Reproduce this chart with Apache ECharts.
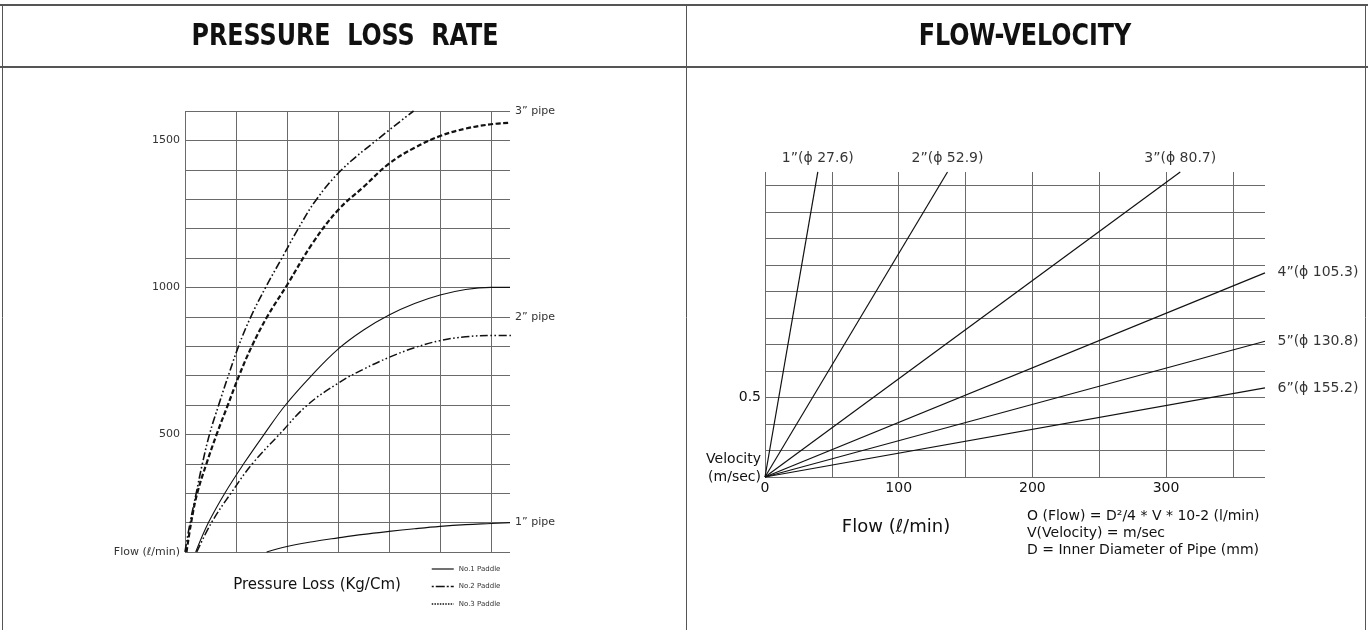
<!DOCTYPE html>
<html><head><meta charset="utf-8">
<script src="https://cdn.jsdelivr.net/npm/echarts@6/dist/echarts.min.js"></script>
<style>html,body{margin:0;padding:0;background:#fff}#c{width:1368px;height:630px}</style>
</head><body><div id="c"></div>
<script>
// ---------------- LEFT: PRESSURE LOSS RATE ----------------
const leftTitle = 'PRESSURE  LOSS  RATE';
const flowTickLabels = [500, 1000, 1500];
const flowAxisName = 'Flow (ℓ/min)';
const pipeLabelValues = [1600, 900, 200];
const pipeLabelTexts = ['3” pipe', '2” pipe', '1” pipe'];
const paddleNames = ['No.1 Paddle', 'No.2 Paddle', 'No.3 Paddle'];
// [pressure-loss grid units, flow l/min]
const pipe3No2 = [[0,100],[0.1,200],[0.22,300],[0.34,400],[0.48,500],[0.66,600],[0.85,700],[1.05,800],[1.29,900],[1.58,1000],[1.9,1100],[2.22,1200],[2.58,1300],[3.07,1400],[3.75,1500],[4.48,1600]];
const pipe3No3 = [[0.03,100],[0.12,200],[0.24,300],[0.42,400],[0.62,500],[0.84,600],[1.06,700],[1.31,800],[1.61,900],[2,1008],[2.5,1150],[3,1263],[3.5,1342],[4,1421],[4.5,1475],[5,1515],[5.5,1540],[6,1555],[6.37,1560]];
const pipe2No1 = [[0.21,100],[0.46,200],[0.78,300],[1.15,400],[1.55,500],[1.97,600],[2.48,700],[3,790],[3.5,855],[4,906],[4.5,945],[5,974],[5.5,993],[6,1000],[6.37,1000]];
const pipe2No2 = [[0.23,100],[0.52,200],[0.9,300],[1.32,400],[1.85,500],[2.4,600],[3,674],[3.5,722],[4,762],[4.5,795],[5,819],[5.5,832],[6,836],[6.45,836]];
const pipe1No1 = [[1.6,100],[2,119],[2.5,135],[3,148],[3.5,160],[4,170],[4.5,179],[5,187],[5.5,193],[6,197],[6.37,200]];

// ---------------- RIGHT: FLOW-VELOCITY ----------------
const rightTitle = 'FLOW-VELOCITY';
const velPipes = ['1”(ϕ 27.6)', '2”(ϕ 52.9)', '3”(ϕ 80.7)', '4”(ϕ 105.3)', '5”(ϕ 130.8)', '6”(ϕ 155.2)'];
const velEndFlow = [39.5, 136.5, 310.6, 374, 374, 374];      // l/min at line end
const velEndVel  = [1.917, 1.917, 1.917, 1.283, 0.853, 0.56]; // m/sec at line end
const velLabelPos = ['top', 'top', 'top', 'right', 'right', 'right'];
const flowTickStep = 100;
const velTickLabel = 0.5;
const formulaLines = ['O (Flow) = D²/4 * V * 10-2 (l/min)', 'V(Velocity) = m/sec', 'D = Inner Diameter of Pipe (mm)'];

const FONT = '"DejaVu Sans", Verdana, sans-serif';
const TITLE_FONT = '"Liberation Sans Narrow", "DejaVu Sans Condensed", "DejaVu Sans", sans-serif';
const INK = '#111';
const GRIDC = '#6a6a6a';

const chart = echarts.init(document.getElementById('c'), null, {renderer: 'canvas'});

function curve(name, data, lineStyle) {
  return {type: 'line', name, xAxisIndex: 0, yAxisIndex: 0, data, symbol: 'none',
    smooth: 0.4, clip: false, silent: true,
    lineStyle: Object.assign({color: INK, width: 1.1}, lineStyle), itemStyle: {color: INK}};
}

const series = [
  curve(paddleNames[1], pipe3No2, {type: [8, 2.5, 1.6, 2.5, 1.6, 2.5], width: 1.6}),
  curve(paddleNames[2], pipe3No3, {type: [5, 2.5], width: 2.2}),
  curve(paddleNames[0], pipe2No1, {type: 'solid'}),
  curve(paddleNames[1], pipe2No2, {type: [8, 2.5, 1.6, 2.5, 1.6, 2.5], width: 1.5}),
  curve(paddleNames[0], pipe1No1, {type: 'solid'})
];

velPipes.forEach((p, i) => {
  series.push({type: 'line', name: p, xAxisIndex: 1, yAxisIndex: 2, symbol: 'none', clip: false, silent: true,
    data: [[0, 0], [velEndFlow[i], velEndVel[i]]], lineStyle: {color: INK, width: 1.2}});
});
series.push({type: 'scatter', xAxisIndex: 1, yAxisIndex: 2, clip: false, silent: true,
  symbolSize: 1, itemStyle: {color: 'transparent'},
  data: velPipes.map((p, i) => ({value: [velEndFlow[i], velEndVel[i]],
    label: {show: true, formatter: p, position: velLabelPos[i], distance: velLabelPos[i] === 'top' ? 6 : 12,
      fontFamily: FONT, fontSize: 14, color: '#000'}}))
});

const hiddenSymbol = {color: 'transparent', borderColor: 'transparent', borderWidth: 0};
const option = {
  animation: false,
  backgroundColor: '#fff',
  title: [
    {text: formulaLines.join('\n'), left: 1027, top: 508, padding: 0,
      textStyle: {fontFamily: FONT, fontWeight: 'normal', fontSize: 14, lineHeight: 17, color: INK}}
  ],
  legend: {
    left: 426, top: 560, orient: 'vertical', itemWidth: 22, itemHeight: 10, itemGap: 9.5,
    selectedMode: false,
    textStyle: {fontFamily: FONT, fontSize: 7, color: '#333'},
    data: [
      {name: paddleNames[0], itemStyle: hiddenSymbol, lineStyle: {type: 'solid', width: 1.2, color: INK}},
      {name: paddleNames[1], itemStyle: hiddenSymbol, lineStyle: {type: [2, 2, 9, 2], width: 1.5, color: INK}},
      {name: paddleNames[2], itemStyle: hiddenSymbol, lineStyle: {type: [1.5, 1.2], width: 1.5, color: INK}}
    ]
  },
  graphic: [
    {type: 'line', shape: {x1: 0, y1: 5, x2: 1368, y2: 5}, style: {stroke: '#555', lineWidth: 2}},
    {type: 'line', shape: {x1: 0, y1: 67, x2: 1368, y2: 67}, style: {stroke: '#555', lineWidth: 2}},
    {type: 'line', shape: {x1: 2.5, y1: 5, x2: 2.5, y2: 630}, style: {stroke: '#555', lineWidth: 1}},
    {type: 'line', shape: {x1: 686.5, y1: 5, x2: 686.5, y2: 630}, style: {stroke: '#555', lineWidth: 1}},
    {type: 'line', shape: {x1: 1365.5, y1: 5, x2: 1365.5, y2: 630}, style: {stroke: '#555', lineWidth: 1}},
    {type: 'text', x: 345, y: 37, scaleX: 0.98, scaleY: 1.1,
      style: {text: leftTitle, font: 'bold 27px ' + TITLE_FONT, fill: '#111', textAlign: 'center', textVerticalAlign: 'middle'}},
    {type: 'text', x: 1025, y: 37, scaleX: 0.98, scaleY: 1.1,
      style: {text: rightTitle, font: 'bold 27px ' + TITLE_FONT, fill: '#111', textAlign: 'center', textVerticalAlign: 'middle'}}
  ],
  grid: [
    {left: 185, top: 111, width: 325, height: 441},
    {left: 765, top: 172, width: 500, height: 305}
  ],
  xAxis: [
    {type: 'value', gridIndex: 0, min: 0, max: 6.37, interval: 1,
      name: 'Pressure Loss (Kg/Cm)', nameLocation: 'middle', nameGap: 26,
      nameTextStyle: {fontFamily: FONT, fontSize: 15, color: INK, padding: [0, 61, 0, 0]},
      axisLine: {show: false}, axisTick: {show: false}, axisLabel: {show: false},
      splitLine: {show: true, showMaxLine: false, lineStyle: {color: GRIDC, width: 1}}},
    {type: 'value', gridIndex: 1, min: 0, max: 374, interval: 50,
      name: 'Flow (ℓ/min)', nameLocation: 'middle', nameGap: 41,
      nameTextStyle: {fontFamily: FONT, fontSize: 18, color: INK, padding: [0, 238, 0, 0]},
      axisLine: {show: false}, axisTick: {show: false},
      axisLabel: {show: true, showMaxLabel: false, margin: 4, fontFamily: FONT, fontSize: 14, color: INK,
        formatter: v => (Math.round(v) % flowTickStep === 0 ? String(Math.round(v)) : '')},
      splitLine: {show: true, showMaxLine: false, lineStyle: {color: GRIDC, width: 1}}}
  ],
  yAxis: [
    {type: 'value', gridIndex: 0, min: 100, max: 1600, interval: 100,
      axisLine: {show: false}, axisTick: {show: false},
      axisLabel: {margin: 5, fontFamily: FONT, fontSize: 11, color: '#333',
        formatter: v => (v === 100 ? flowAxisName : (flowTickLabels.indexOf(v) >= 0 ? String(v) : ''))},
      splitLine: {show: true, lineStyle: {color: GRIDC, width: 1}}},
    {type: 'value', gridIndex: 0, position: 'right', min: 100, max: 1600, interval: 100,
      axisLine: {show: false}, axisTick: {show: false}, splitLine: {show: false},
      axisLabel: {margin: 5, fontFamily: FONT, fontSize: 11, color: '#333',
        formatter: v => { const k = pipeLabelValues.indexOf(v); return k >= 0 ? pipeLabelTexts[k] : ''; }}},
    {type: 'value', gridIndex: 1, min: 0, max: 11.5 / 6, interval: 1 / 6,
      axisLine: {show: false}, axisTick: {show: false},
      axisLabel: {margin: 4, fontFamily: FONT, fontSize: 14, color: INK, lineHeight: 18, showMaxLabel: false,
        formatter: v => (Math.abs(v) < 1e-9 ? 'Velocity\n(m/sec)\n ' : (Math.abs(v - velTickLabel) < 1e-6 ? String(velTickLabel) : ''))},
      splitLine: {show: true, showMaxLine: false, lineStyle: {color: GRIDC, width: 1}}}
  ],
  series
};
chart.setOption(option);
</script>
</body></html>
